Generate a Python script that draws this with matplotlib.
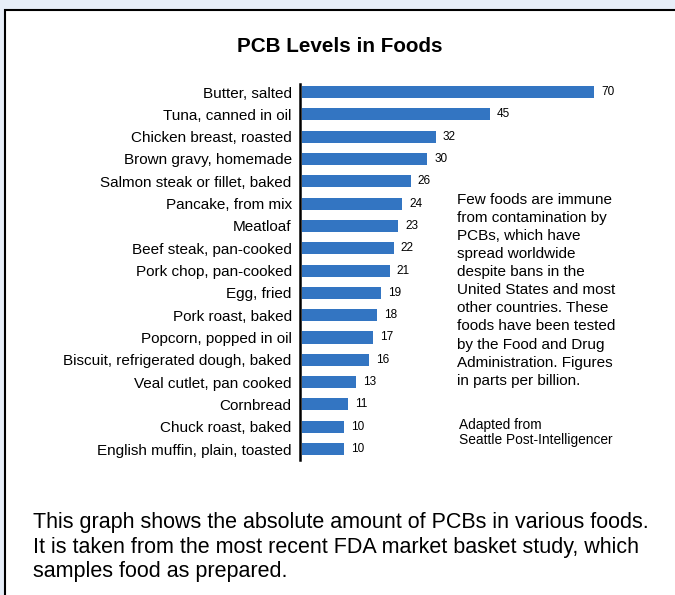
import matplotlib.pyplot as plt
from matplotlib.patches import Rectangle

plt.rcParams['font.family'] = ['Liberation Sans', 'DejaVu Sans']

foods = ["Butter, salted", "Tuna, canned in oil", "Chicken breast, roasted",
         "Brown gravy, homemade", "Salmon steak or fillet, baked", "Pancake, from mix",
         "Meatloaf", "Beef steak, pan-cooked", "Pork chop, pan-cooked", "Egg, fried",
         "Pork roast, baked", "Popcorn, popped in oil", "Biscuit, refrigerated dough, baked",
         "Veal cutlet, pan cooked", "Cornbread", "Chuck roast, baked",
         "English muffin, plain, toasted"]
levels = [70, 45, 32, 30, 26, 24, 23, 22, 21, 19, 18, 17, 16, 13, 11, 10, 10]

title = "PCB Levels in Foods"
note = ("Few foods are immune\nfrom contamination by\nPCBs, which have\nspread worldwide\n"
        "despite bans in the\nUnited States and most\nother countries. These\n"
        "foods have been tested\nby the Food and Drug\nAdministration. Figures\n"
        "in parts per billion.")
source = "Adapted from\nSeattle Post-Intelligencer"
caption = ("This graph shows the absolute amount of PCBs in various foods.\n"
           "It is taken from the most recent FDA market basket study, which\n"
           "samples food as prepared.")

W, H = 675, 595
fig = plt.figure(figsize=(W / 100, H / 100), dpi=100, facecolor='#e7eef8')

# white framed panel, kept behind the axes
fig.patches.append(Rectangle((5 / W, -0.1), 1.2, 1.1 - 10 / H, transform=fig.transFigure,
                             facecolor='white', edgecolor='black', linewidth=1.5, zorder=-5))

ax_left, ax_right = 300, 600
ax_top, ax_bottom = 84, 460
ax = fig.add_axes([ax_left / W, 1 - ax_bottom / H, (ax_right - ax_left) / W, (ax_bottom - ax_top) / H])
ax.set_facecolor('none')

ypos = list(range(len(foods)))
ax.barh(ypos, levels, height=0.54, left=0.5, color='#3375c2')
for y, v in zip(ypos, levels):
    ax.annotate(str(v), (v + 0.5, y), xytext=(5, 0), textcoords='offset points',
                va='center', ha='left', fontsize=8.5)

ax.set_xlim(0, (ax_right - ax_left) / 4.17)
ax.set_ylim(len(foods) - 1 + 0.49, -0.36)
ax.set_yticks(ypos)
ax.set_yticklabels(foods, fontsize=11)
ax.tick_params(axis='y', length=0, pad=6)
ax.set_xticks([])
for s in ['top', 'right', 'bottom']:
    ax.spines[s].set_visible(False)
ax.spines['left'].set_linewidth(1.8)

fig.text(340 / W, 1 - 46 / H, title, ha='center', va='center', fontsize=14.9, fontweight='bold')
fig.text(457 / W, 1 - 193 / H, note, ha='left', va='top', fontsize=11, linespacing=1.37)
fig.text(459 / W, 1 - 418 / H, source, ha='left', va='top', fontsize=9.9, linespacing=1.1)
fig.text(33 / W, 1 - 512 / H, caption, ha='left', va='top', fontsize=15.5, linespacing=1.22)

fig.savefig('out.png', dpi=100, facecolor=fig.get_facecolor())
